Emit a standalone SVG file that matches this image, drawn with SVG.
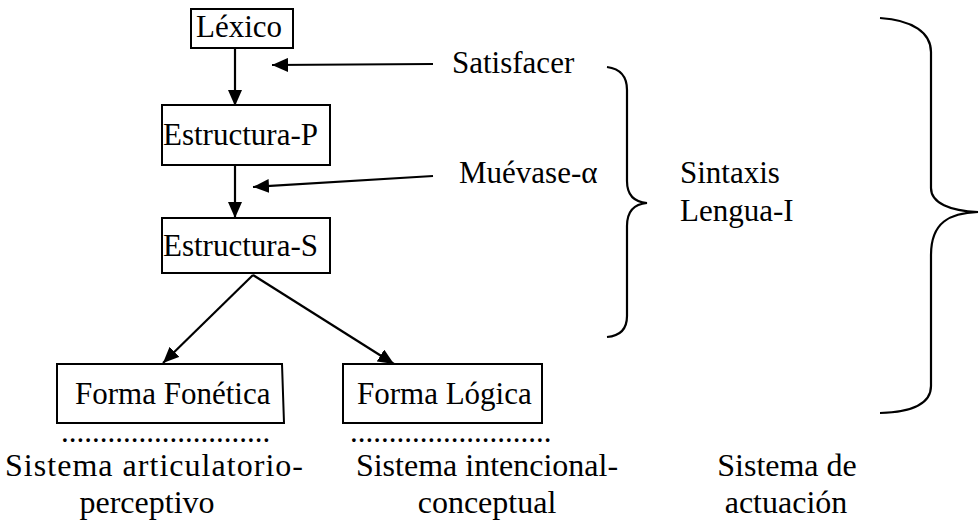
<svg xmlns="http://www.w3.org/2000/svg" width="979" height="521" viewBox="0 0 979 521">
<style>
text{font-family:"Liberation Serif","Times New Roman",serif;font-size:31px;fill:#000}
.lb{font-size:32px}
.box{fill:#fff;stroke:#000;stroke-width:2}
.ln{fill:none;stroke:#000;stroke-width:2.2}
.c{text-anchor:middle}
</style>
<defs>
<marker id="ah" viewBox="0 0 16 14" refX="16" refY="7" markerWidth="16" markerHeight="14" markerUnits="userSpaceOnUse" orient="auto">
<path d="M0,0 L16,7 L0,14 Z" fill="#000"/>
</marker>
</defs>
<rect width="979" height="521" fill="#fff"/>
<g id="connectors">
<line class="ln" x1="235" y1="48" x2="235" y2="106" marker-end="url(#ah)"/>
<line class="ln" x1="235" y1="165" x2="235" y2="218" marker-end="url(#ah)"/>
<line class="ln" x1="433" y1="64" x2="272" y2="65" marker-end="url(#ah)"/>
<line class="ln" x1="433" y1="176" x2="253" y2="187" marker-end="url(#ah)"/>
<line class="ln" x1="253" y1="275" x2="163" y2="363" marker-end="url(#ah)"/>
<line class="ln" x1="253" y1="275" x2="394" y2="364" marker-end="url(#ah)"/>
</g>
<g id="lexico">
<rect class="box" x="191" y="9" width="102" height="39"/>
<text x="196" y="37">Léxico</text>
</g>
<g id="estructura-p">
<rect class="box" x="162" y="105" width="168" height="60"/>
<text x="163" y="145">Estructura-P</text>
</g>
<g id="estructura-s">
<rect class="box" x="162" y="218" width="168" height="55"/>
<text x="163" y="256">Estructura-S</text>
</g>
<g id="forma-fonetica">
<path class="box" d="M57,364 L282,364 L284,423 L57,423 Z"/>
<text x="75" y="404">Forma Fonética</text>
</g>
<g id="forma-logica">
<rect class="box" x="343" y="364" width="199" height="59"/>
<text x="357" y="404">Forma Lógica</text>
</g>
<g id="satisfacer">
<text x="452" y="73">Satisfacer</text>
</g>
<g id="muevase">
<text x="459" y="183">Muévase-α</text>
</g>
<g id="sintaxis">
<path class="ln" d="M607,67 C622,69 627,78 627,90 L627,181 C627,195 634,202 647,203 C634,204 627,211 627,226 L627,316 C627,329 620,336 607,337"/>
<text x="680" y="183">Sintaxis</text>
<text x="680" y="221">Lengua-I</text>
</g>
<g id="actuacion">
<path class="ln" d="M880,18 C913,20 931,33 931,52 L931,188 C931,203 950,211 978,212 C950,213 931,222 931,255 L931,386 C931,403 913,412 880,413"/>
</g>
<g id="labels">
<text x="61" y="442">...........................</text>
<text x="350" y="442">..........................</text>
<text class="lb" x="5" y="476" textLength="298" lengthAdjust="spacing">Sistema articulatorio-</text>
<text class="lb c" x="147" y="513">perceptivo</text>
<text class="lb c" x="487" y="476">Sistema intencional-</text>
<text class="lb c" x="487" y="513">conceptual</text>
<text class="lb c" x="787" y="476">Sistema de</text>
<text class="lb c" x="786" y="513">actuación</text>
</g>
</svg>
